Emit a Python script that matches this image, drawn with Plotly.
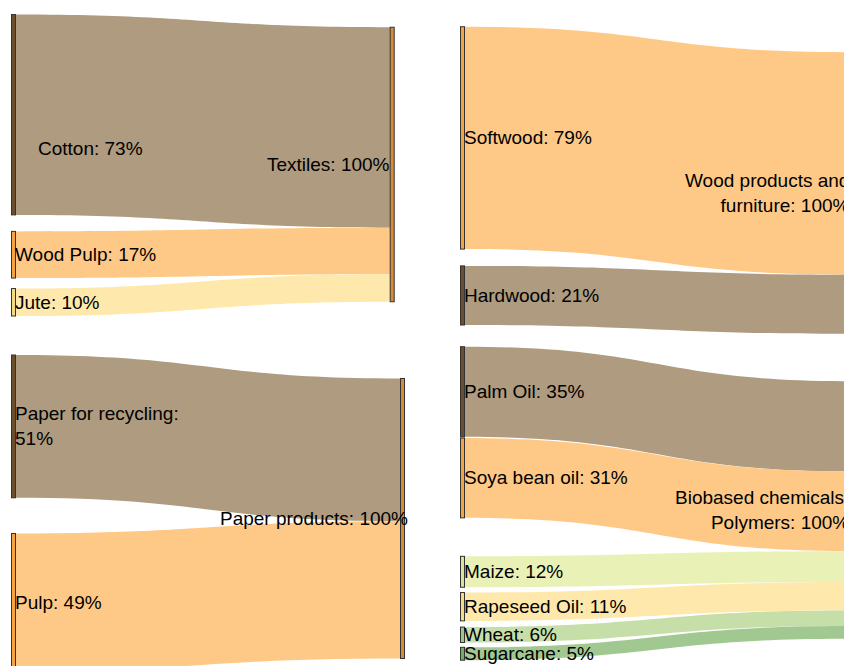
import plotly.graph_objects as go

# ---------------- data ----------------
textile_sources = ["Cotton", "Wood Pulp", "Jute"]
textile_values = [73, 17, 10]
textile_labels = ["Cotton: 73%", "Wood Pulp: 17%", "Jute: 10%"]
textile_target = "Textiles: 100%"

paper_sources = ["Paper for recycling", "Pulp"]
paper_values = [51, 49]
paper_labels = ["Paper for recycling:<br>51%", "Pulp: 49%"]
paper_target = "Paper products: 100%"

wood_sources = ["Softwood", "Hardwood"]
wood_values = [79, 21]
wood_labels = ["Softwood: 79%", "Hardwood: 21%"]
wood_target = "Wood products and<br>furniture: 100%"

bio_sources = ["Palm Oil", "Soya bean oil", "Maize", "Rapeseed Oil", "Wheat", "Sugarcane"]
bio_values = [35, 31, 12, 11, 6, 5]
bio_labels = ["Palm Oil: 35%", "Soya bean oil: 31%", "Maize: 12%",
              "Rapeseed Oil: 11%", "Wheat: 6%", "Sugarcane: 5%"]
bio_target = "Biobased chemicals/<br>Polymers: 100%"

# ---------------- styles ----------------
BROWN_N, BROWN_L = "#6B4F2C", "#AF9B7F"
ORANGE_N, ORANGE_L = "#F5A443", "#FEC987"
YELLOW_N, YELLOW_L = "#F4DC82", "#FFE8AB"
MAIZE_N, MAIZE_L = "#D3E59B", "#EAF1B7"
WHEAT_N, WHEAT_L = "#9CC98A", "#C6DFA9"
CANE_N, CANE_L = "#6FAE63", "#A2C892"
TARGET_N = "#D98A33"
FONT = dict(family="Liberation Sans, Arial, sans-serif", size=19, color="black")

FIG_W, FIG_H = 844, 666
THICK = 4
SRC_LABEL_GAP = -0.4   # label start relative to the node's right side
TGT_LABEL_GAP = -0.2   # label end relative to the node's left side

# layout of each block (pixels): column centres, scale, source stacking gaps, target centre,
# and optional label shifts (dx, dy) for labels that sit away from their nodes
groups = [
    dict(labels=textile_labels, values=textile_values, target=textile_target,
         ncol=[BROWN_N, ORANGE_N, YELLOW_N], lcol=[BROWN_L, ORANGE_L, YELLOW_L],
         x_src=13.5, x_tgt=392.2, ky=2.745, src_top=14.5, gaps=[16.5, 10.5], tgt_center=164.5,
         src_shift={0: (22.6, 33.5)}, tgt_shift=(0, 0)),
    dict(labels=paper_labels, values=paper_values, target=paper_target,
         ncol=[BROWN_N, ORANGE_N], lcol=[BROWN_L, ORANGE_L],
         x_src=13.5, x_tgt=402.5, ky=2.80, src_top=355.0, gaps=[35.7], tgt_center=518.5,
         src_shift={}, tgt_shift=(7.5, 0)),
    dict(labels=wood_labels, values=wood_values, target=wood_target,
         ncol=[ORANGE_N, BROWN_N], lcol=[ORANGE_L, BROWN_L],
         x_src=462.5, x_tgt=851.7, ky=2.815, src_top=26.7, gaps=[16.8], tgt_center=193.0,
         src_shift={}, tgt_shift=(0, 0)),
    dict(labels=bio_labels, values=bio_values, target=bio_target,
         ncol=[BROWN_N, ORANGE_N, MAIZE_N, YELLOW_N, WHEAT_N, CANE_N],
         lcol=[BROWN_L, ORANGE_L, MAIZE_L, YELLOW_L, WHEAT_L, CANE_L],
         x_src=462.5, x_tgt=851.7, ky=2.575, src_top=346.7, gaps=[1.2, 38.5, 5.3, 6.2, 4.8],
         tgt_center=510.0, src_shift={}, tgt_shift=(0, 0)),
]


def px_to_paper_x(px):
    return px / FIG_W


def px_to_paper_y(py):
    return 1 - py / FIG_H


fig = go.Figure()
for g in groups:
    vals = g["values"]
    n = len(vals)
    total = sum(vals)
    h_px = total * g["ky"]
    top = g["tgt_center"] - h_px / 2
    # source node centres from the values and the gaps
    centers = []
    cur = g["src_top"]
    for i, v in enumerate(vals):
        hh = v * g["ky"]
        centers.append(cur + hh / 2)
        cur += hh
        if i < n - 1:
            cur += g["gaps"][i]
    ys = [(c - top) / h_px for c in centers] + [0.5]

    dom_right = min(g["x_tgt"], FIG_W)
    dom_w = dom_right - g["x_src"]
    xs = [1e-6] * n + [(g["x_tgt"] - g["x_src"]) / dom_w]

    dom_x = [px_to_paper_x(g["x_src"]), px_to_paper_x(dom_right)]
    dom_y = [px_to_paper_y(top + h_px), px_to_paper_y(top)]

    fig.add_trace(go.Sankey(
        domain=dict(x=dom_x, y=dom_y),
        arrangement="fixed",
        node=dict(
            label=[""] * (n + 1),
            customdata=g["labels"] + [g["target"]],
            color=g["ncol"] + [TARGET_N],
            pad=0,
            thickness=THICK,
            line=dict(color="#333333", width=1),
            x=xs,
            y=ys,
        ),
        link=dict(
            source=list(range(n)),
            target=[n] * n,
            value=vals,
            color=g["lcol"],
        ),
        hoverinfo="none",
    ))

    # node labels as text next to the nodes
    for i, (lab, c) in enumerate(zip(g["labels"], centers)):
        dx, dy = g["src_shift"].get(i, (0, 0))
        fig.add_annotation(text=lab, xref="paper", yref="paper",
                           x=px_to_paper_x(g["x_src"] + THICK / 2 + SRC_LABEL_GAP + dx),
                           y=px_to_paper_y(c + dy),
                           xanchor="left", yanchor="middle", align="left",
                           showarrow=False, borderpad=0, borderwidth=0, font=FONT)
    dx, dy = g["tgt_shift"]
    fig.add_annotation(text=g["target"], xref="paper", yref="paper",
                       x=px_to_paper_x(g["x_tgt"] - THICK / 2 + TGT_LABEL_GAP + dx),
                       y=px_to_paper_y(g["tgt_center"] + dy),
                       xanchor="right", yanchor="middle", align="right",
                       showarrow=False, borderpad=0, borderwidth=0, font=FONT)

fig.update_layout(
    width=FIG_W, height=FIG_H,
    margin=dict(l=0, r=0, t=0, b=0),
    paper_bgcolor="white",
    plot_bgcolor="white",
    showlegend=False,
)

fig.write_html("out.html",
               config={"displayModeBar": False},
               post_script="document.body.style.margin='0px';document.body.style.overflow='hidden';")
